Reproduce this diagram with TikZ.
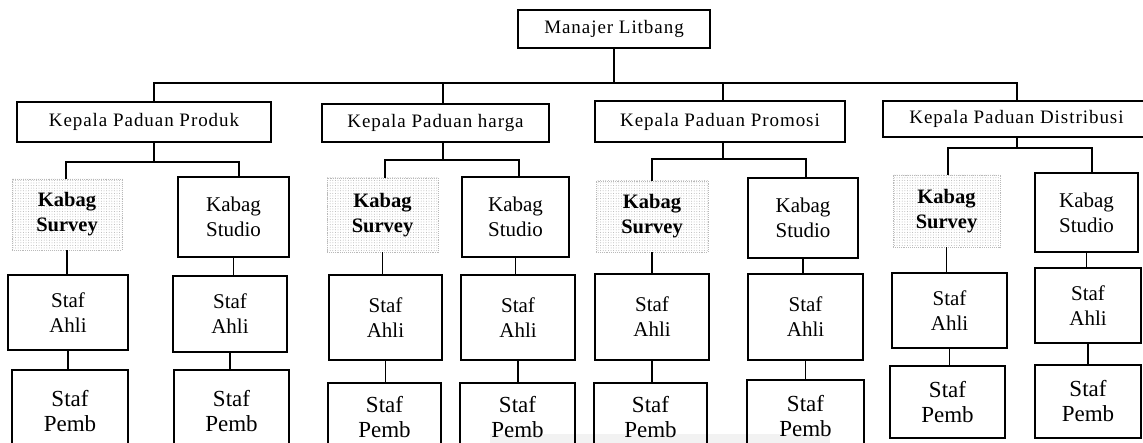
\documentclass[tikz,border=0pt]{standalone}
\usepackage{fontspec}
\setmainfont{Liberation Serif}
\newfontfamily\headfont[LetterSpace=5]{Liberation Serif}
\usetikzlibrary{patterns.meta}

\tikzset{
  x=1pt, y=-1pt,
  unit/.style={draw, line width=1.5pt, inner sep=0pt, align=center,
    font=\fontsize{21}{25}\selectfont},
  head/.style={draw, line width=1.3pt, inner sep=0pt, align=center,
    font=\headfont\fontsize{19}{21}\selectfont},
  survey/.style={inner sep=0pt, align=center,
    font=\bfseries\fontsize{20.5}{25}\selectfont,
    pattern={Dots[distance=2.6pt, radius=0.5pt]}, pattern color=gray!60,
    draw=gray!55, densely dotted, line width=0.9pt},
  pemb/.style={unit, font=\fontsize{23}{25}\selectfont},
  link/.style={line width=1.7pt},
}

% \orgbox{style}{x1}{y1}{x2}{y2}{name}{text}
\newcommand\orgbox[7]{%
  \node[#1, minimum width={#4pt-#2pt}, minimum height={#5pt-#3pt}]
    (#6) at ({(#2+#4)/2},{(#3+#5)/2}) {#7};}

\begin{document}
\begin{tikzpicture}
\useasboundingbox (0,0) rectangle (1143,443);
\clip (0,0) rectangle (1143,443);

% faint band along the lower edge
\fill[gray!10] (490,434) rectangle (830,443);

% manager and department heads
\orgbox{head}{518}{10}{710}{48}{mgr}{Manajer Litbang}
\orgbox{head}{17}{102}{271}{142}{prod}{Kepala Paduan Produk}
\orgbox{head}{322}{104}{549}{142}{harg}{Kepala Paduan harga}
\orgbox{head}{595}{101}{845}{142}{prom}{Kepala Paduan Promosi}
\orgbox{head}{883}{101}{1150}{137}{dist}{Kepala Paduan Distribusi}

% produk column
\orgbox{survey}{12}{179}{122}{250}{psv}{Kabag\\Survey}
\orgbox{unit}{178}{177}{289}{257}{pst}{Kabag\\Studio}
\orgbox{unit}{8}{275}{128}{350}{pa1}{Staf\\Ahli}
\orgbox{unit}{173}{276}{287}{352}{pa2}{Staf\\Ahli}
\orgbox{pemb}{12}{370}{128}{452}{pp1}{Staf\\Pemb}
\orgbox{pemb}{174}{370}{289}{452}{pp2}{Staf\\Pemb}

% harga column
\orgbox{survey}{327}{178}{438}{252}{hsv}{Kabag\\Survey}
\orgbox{unit}{462}{177}{569}{257}{hst}{Kabag\\Studio}
\orgbox{unit}{329}{275}{442}{360}{ha1}{Staf\\Ahli}
\orgbox{unit}{461}{275}{575}{360}{ha2}{Staf\\Ahli}
\orgbox{pemb}{328}{383}{441}{452}{hp1}{Staf\\Pemb}
\orgbox{pemb}{460}{383}{575}{452}{hp2}{Staf\\Pemb}

% promosi column
\orgbox{survey}{596}{181}{708}{252}{msv}{Kabag\\Survey}
\orgbox{unit}{748}{178}{858}{258}{mst}{Kabag\\Studio}
\orgbox{unit}{595}{274}{709}{360}{ma1}{Staf\\Ahli}
\orgbox{unit}{748}{274}{863}{360}{ma2}{Staf\\Ahli}
\orgbox{pemb}{594}{383}{707}{452}{mp1}{Staf\\Pemb}
\orgbox{pemb}{747}{380}{864}{452}{mp2}{Staf\\Pemb}

% distribusi column
\orgbox{survey}{893}{175}{1000}{247}{dsv}{Kabag\\Survey}
\orgbox{unit}{1035}{173}{1138}{252}{dst}{Kabag\\Studio}
\orgbox{unit}{892}{273}{1007}{348}{da1}{Staf\\Ahli}
\orgbox{unit}{1035}{268}{1141}{343}{da2}{Staf\\Ahli}
\orgbox{pemb}{890}{366}{1005}{438}{dp1}{Staf\\Pemb}
\orgbox{pemb}{1035}{365}{1141}{438}{dp2}{Staf\\Pemb}

% top-level connectors
\coordinate (tP) at (154,83);
\coordinate (tH) at (443,83);
\coordinate (tM) at (723,83);
\coordinate (tD) at (1017,83);
\draw[link] (mgr.south) -- (mgr.south |- tP);
\draw[link] (tP |- prod.north) -- (tP) -- (tD) -- (tD |- dist.north);
\draw[link] (tH) -- (tH |- harg.north);
\draw[link] (tM) -- (tM |- prom.north);

% column connectors
\coordinate (bPl) at (66,162);  \coordinate (bPr) at (239,162);
\coordinate (bHl) at (385,160); \coordinate (bHr) at (519,160);
\coordinate (bMl) at (652,159); \coordinate (bMr) at (806,159);
\coordinate (bDl) at (948,148); \coordinate (bDr) at (1092,148);

\draw[link] (tP |- prod.south) -- (tP |- bPl);
\draw[link] (bPl |- psv.north) -- (bPl) -- (bPr) -- (bPr |- pst.north);
\draw[link] (tH |- harg.south) -- (tH |- bHl);
\draw[link] (bHl |- hsv.north) -- (bHl) -- (bHr) -- (bHr |- hst.north);
\draw[link] (tM |- prom.south) -- (tM |- bMl);
\draw[link] (bMl |- msv.north) -- (bMl) -- (bMr) -- (bMr |- mst.north);
\draw[link] (tD |- dist.south) -- (tD |- bDl);
\draw[link] (bDl |- dsv.north) -- (bDl) -- (bDr) -- (bDr |- dst.north);

% staff connectors
\foreach \up/\mid/\low in {psv/pa1/pp1, pst/pa2/pp2, hsv/ha1/hp1, hst/ha2/hp2,
                           msv/ma1/mp1, mst/ma2/mp2, dsv/da1/dp1, dst/da2/dp2} {
  \draw[link] (\up.south) -- (\up.south |- \mid.north);
  \draw[link] (\mid.south) -- (\mid.south |- \low.north);
}
\end{tikzpicture}
\end{document}
